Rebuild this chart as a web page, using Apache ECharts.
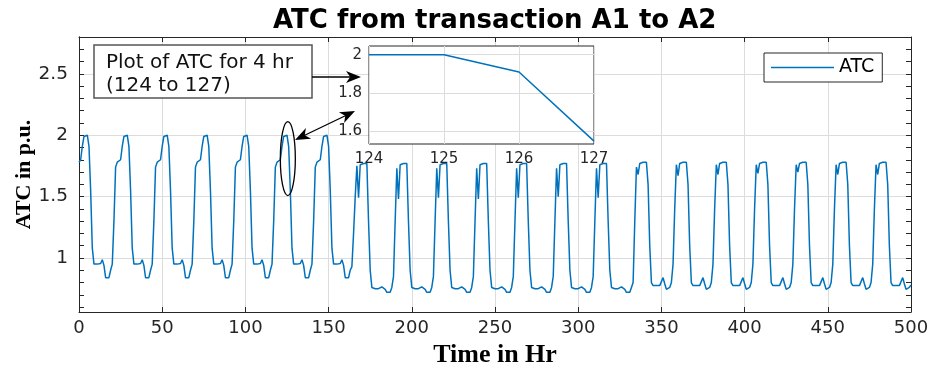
<!DOCTYPE html>
<html><head><meta charset="utf-8">
<script src="https://cdn.jsdelivr.net/npm/echarts@6/dist/echarts.min.js"></script>
<style>html,body{margin:0;padding:0;background:#fff}#c{width:932px;height:369px}</style>
</head><body><div id="c"></div>
<script>
// ATC value (p.u.) for each hour 0..500
const atc = [
1.78,1.80,1.91,1.99,2.00,2.00,1.91,1.55,1.08,0.95,0.95,0.95,0.95,0.955,0.985,0.94,0.84,0.835,0.84,0.90,0.95,1.30,1.74,1.78,
1.78,1.80,1.91,1.99,2.00,2.00,1.91,1.55,1.08,0.95,0.95,0.95,0.95,0.955,0.985,0.94,0.84,0.835,0.84,0.90,0.95,1.30,1.74,1.78,
1.78,1.80,1.91,1.99,2.00,2.00,1.91,1.55,1.08,0.95,0.95,0.95,0.95,0.955,0.985,0.94,0.84,0.835,0.84,0.90,0.95,1.30,1.74,1.78,
1.78,1.80,1.91,1.99,2.00,2.00,1.91,1.55,1.08,0.95,0.95,0.95,0.95,0.955,0.985,0.94,0.84,0.835,0.84,0.90,0.95,1.30,1.74,1.78,
1.78,1.80,1.91,1.99,2.00,2.00,1.91,1.55,1.08,0.95,0.95,0.95,0.95,0.955,0.985,0.94,0.84,0.835,0.84,0.90,0.95,1.30,1.74,1.78,
1.78,1.80,1.91,1.99,2.00,2.00,1.91,1.55,1.08,0.95,0.95,0.95,0.95,0.955,0.985,0.94,0.84,0.835,0.84,0.90,0.95,1.30,1.74,1.78,
1.78,1.80,1.91,1.99,2.00,2.00,1.91,1.55,1.08,0.95,0.95,0.95,0.95,0.955,0.985,0.94,0.84,0.835,0.84,0.90,0.93,1.20,1.50,1.75,
1.49,1.76,1.77,1.77,1.77,1.77,1.30,0.90,0.76,0.755,0.75,0.755,0.75,0.755,0.765,0.775,0.745,0.72,0.715,0.72,0.76,0.85,1.30,1.73,
1.48,1.76,1.77,1.77,1.77,1.77,1.30,0.90,0.76,0.755,0.75,0.755,0.75,0.755,0.765,0.775,0.745,0.72,0.715,0.72,0.76,0.85,1.30,1.73,
1.49,1.76,1.77,1.77,1.77,1.77,1.30,0.90,0.76,0.755,0.75,0.755,0.75,0.755,0.765,0.775,0.745,0.72,0.715,0.72,0.76,0.85,1.30,1.73,
1.48,1.76,1.77,1.77,1.77,1.77,1.30,0.90,0.76,0.755,0.75,0.755,0.75,0.755,0.765,0.775,0.745,0.72,0.715,0.72,0.76,0.85,1.30,1.73,
1.49,1.76,1.77,1.77,1.77,1.77,1.30,0.90,0.76,0.755,0.75,0.755,0.75,0.755,0.765,0.775,0.745,0.72,0.715,0.72,0.76,0.85,1.30,1.73,
1.50,1.76,1.77,1.77,1.77,1.77,1.30,0.90,0.76,0.755,0.75,0.755,0.75,0.755,0.765,0.775,0.745,0.72,0.715,0.72,0.76,0.85,1.30,1.73,
1.49,1.76,1.77,1.77,1.77,1.77,1.30,0.90,0.76,0.755,0.75,0.755,0.75,0.755,0.765,0.775,0.745,0.72,0.715,0.72,0.76,0.80,1.30,1.74,
1.68,1.77,1.78,1.78,1.78,1.78,1.60,1.10,0.80,0.775,0.77,0.775,0.77,0.775,0.79,0.84,0.79,0.745,0.74,0.76,0.80,0.95,1.40,1.76,
1.67,1.77,1.78,1.78,1.78,1.78,1.60,1.10,0.80,0.775,0.77,0.775,0.77,0.775,0.79,0.84,0.79,0.745,0.74,0.76,0.80,0.95,1.40,1.76,
1.68,1.77,1.78,1.78,1.78,1.78,1.60,1.10,0.80,0.775,0.77,0.775,0.77,0.775,0.79,0.84,0.79,0.745,0.74,0.76,0.80,0.95,1.40,1.76,
1.69,1.77,1.78,1.78,1.78,1.78,1.60,1.10,0.80,0.775,0.77,0.775,0.77,0.775,0.79,0.84,0.79,0.745,0.74,0.76,0.80,0.95,1.40,1.76,
1.70,1.77,1.78,1.78,1.78,1.78,1.60,1.10,0.80,0.775,0.77,0.775,0.77,0.775,0.79,0.84,0.79,0.745,0.74,0.76,0.80,0.95,1.40,1.76,
1.68,1.77,1.78,1.78,1.78,1.78,1.60,1.10,0.80,0.775,0.77,0.775,0.77,0.775,0.79,0.84,0.79,0.745,0.74,0.76,0.80,0.95,1.40,1.76,
1.68,1.77,1.78,1.78,1.78,1.78,1.60,1.10,0.80,0.775,0.77,0.775,0.77,0.775,0.79,0.84,0.79,0.745,0.74,0.76,0.78
];
const xTicks = [0,50,100,150,200,250,300,350,400,450,500];
const yTicks = [1,1.5,2,2.5];
const yAllTicks = [0.6,0.7,0.8,0.9,1.0,1.1,1.2,1.3,1.4,1.5,1.6,1.7,1.8,1.9,2.0,2.1,2.2,2.3,2.4,2.5,2.6,2.7,2.8];
const insetHours = [124,125,126,127];
const insetYTicks = [1.6,1.8,2];
const seriesName = 'ATC';
const titleText = 'ATC from transaction A1 to A2';
const xName = 'Time in Hr';
const yName = 'ATC in p.u.';
const noteLines = ['Plot of ATC for 4 hr','(124 to 127)'];

const AX = '#262626', GRIDC = '#dcdcdc', BLUE = '#0072BD';
const SANS = 'DejaVu Sans';
const chart = echarts.init(document.getElementById('c'), null, {renderer:'canvas'});

const baseX = {type:'value', min:0, max:500, interval:50, gridIndex:0,
  axisLine:{show:true, lineStyle:{color:AX,width:1}},
  axisTick:{show:true, inside:true, length:5, lineStyle:{color:AX}, customValues:xTicks},
  splitLine:{show:false}};
const baseY = {type:'value', min:0.56, max:2.8, gridIndex:0,
  axisLine:{show:true, lineStyle:{color:AX,width:1}}};

const option = {
  animation:false,
  backgroundColor:'#fff',
  title:{text:titleText, left:268, top:3,
    textStyle:{fontFamily:SANS, fontWeight:'bold', fontSize:26, color:'#000'}},
  legend:{data:[{name:seriesName, icon:'rect'}], left:764, top:53, padding:[5,8,5,7], itemWidth:63, itemHeight:1.4,
    borderColor:AX, borderWidth:1, backgroundColor:'#fff', borderRadius:0,
    textStyle:{fontFamily:SANS, fontSize:19, color:'#000'}},
  grid:[
    {left:79, right:21, top:37, bottom:57, outerBoundsMode:'none', containLabel:false},
    {left:369, top:46, width:225, height:98, show:true, backgroundColor:'#fff',
      borderColor:AX, borderWidth:1, z:3, outerBoundsMode:'none', containLabel:false}
  ],
  xAxis:[
    Object.assign({}, baseX, {position:'bottom',
      axisLabel:{show:true, customValues:xTicks, fontFamily:SANS, fontSize:18, color:AX, margin:7},
      splitLine:{show:true, lineStyle:{color:GRIDC,width:1}},
      name:xName, nameLocation:'middle', nameGap:30,
      nameTextStyle:{fontFamily:'Liberation Serif', fontWeight:'bold', fontSize:26, color:'#000'}}),
    Object.assign({}, baseX, {position:'top', axisLabel:{show:false}}),
    {type:'value', gridIndex:1, min:124, max:127, interval:1, position:'bottom', z:4,
      axisLine:{show:false}, axisTick:{show:false},
      axisLabel:{fontFamily:SANS, fontSize:15, color:AX, margin:8},
      splitLine:{show:true, lineStyle:{color:GRIDC,width:1}}}
  ],
  yAxis:[
    Object.assign({}, baseY, {position:'left',
      axisTick:{show:false, customValues:yTicks},
      axisLabel:{show:true, customValues:yTicks, fontFamily:SANS, fontSize:18.5, color:AX, margin:11},
      splitLine:{show:true, lineStyle:{color:GRIDC,width:1}},
      name:yName, nameLocation:'middle', nameGap:44, nameMoveOverlap:false,
      nameTextStyle:{fontFamily:'Liberation Serif', fontWeight:'bold', fontSize:22, color:'#000'}}),
    Object.assign({}, baseY, {position:'left', axisLabel:{show:false}, splitLine:{show:false},
      axisTick:{show:true, inside:true, length:5, lineStyle:{color:AX}, customValues:yAllTicks}}),
    Object.assign({}, baseY, {position:'right', axisLabel:{show:false}, splitLine:{show:false},
      axisTick:{show:true, inside:true, length:5, lineStyle:{color:AX}, customValues:yAllTicks}}),
    {type:'value', gridIndex:1, min:1.535, max:2.045, position:'left', z:4,
      axisLine:{show:false}, axisTick:{show:false, customValues:insetYTicks},
      axisLabel:{customValues:insetYTicks, fontFamily:SANS, fontSize:15, color:AX, margin:7,
        formatter:v=>String(+v.toFixed(2))},
      splitLine:{show:true, lineStyle:{color:GRIDC,width:1}}}
  ],
  series:[
    {name:seriesName, type:'line', xAxisIndex:0, yAxisIndex:0, symbol:'none', z:2,
      lineStyle:{color:BLUE, width:1.5}, itemStyle:{color:BLUE},
      data:atc.map((v,i)=>[i,v])},
    {name:'inset', type:'line', xAxisIndex:2, yAxisIndex:3, symbol:'none', z:6,
      lineStyle:{color:BLUE, width:1.5}, itemStyle:{color:BLUE},
      data:insetHours.map(h=>[h, atc[h]])}
  ]
};
chart.setOption(option);

function arrowHead(tx, ty, fx, fy){
  const L=15, W=6, N=0.72;
  const dx=tx-fx, dy=ty-fy, len=Math.hypot(dx,dy), ux=dx/len, uy=dy/len, px=-uy, py=ux;
  const bx=tx-ux*L, by=ty-uy*L;
  return {type:'polygon', z:20, silent:true,
    shape:{points:[[tx,ty],[bx+px*W,by+py*W],[tx-ux*L*N,ty-uy*L*N],[bx-px*W,by-py*W]]},
    style:{fill:'#000'}};
}
function shaft(x1,y1,x2,y2){
  return {type:'line', z:20, silent:true, shape:{x1,y1,x2,y2}, style:{stroke:'#000', lineWidth:1.3}};
}
const ec = chart.convertToPixel({gridIndex:0}, [125.5, 1.81]);
const graphics = [
  {type:'rect', z:15, silent:true, shape:{x:94, y:45, width:218, height:53},
    style:{fill:'#fff', stroke:'#555', lineWidth:1.5}},
  {type:'text', z:16, silent:true, x:106, y:63,
    style:{text:noteLines[0], fontFamily:SANS, fontSize:20, fill:'#111', verticalAlign:'middle'}},
  {type:'text', z:16, silent:true, x:106, y:86,
    style:{text:noteLines[1], fontFamily:SANS, fontSize:20, fill:'#111', verticalAlign:'middle'}},
  {type:'ellipse', z:20, silent:true, shape:{cx:ec[0], cy:ec[1], rx:7.5, ry:37},
    style:{fill:'none', stroke:'#000', lineWidth:1.3}},
  shaft(312,77,352,77), arrowHead(361,77,312,77),
  shaft(300,137.5,350,113.5), arrowHead(295,140,355,111), arrowHead(355,111,295,140)
];
chart.setOption({graphic:graphics});
</script>
</body></html>
